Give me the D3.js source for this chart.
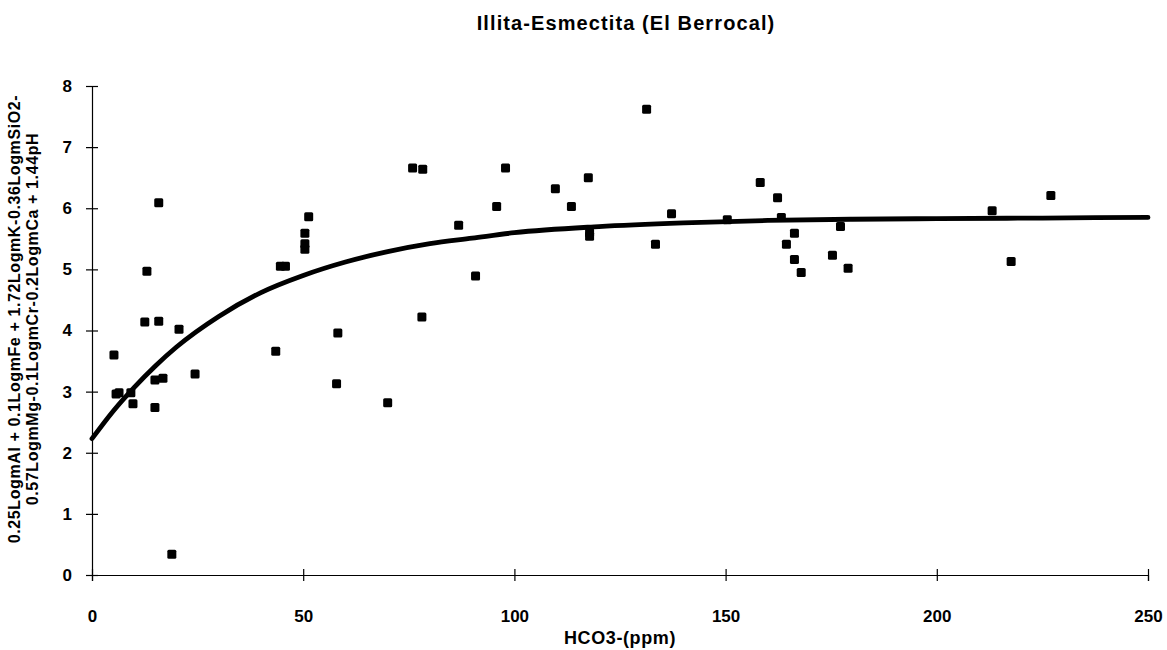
<!DOCTYPE html>
<html>
<head>
<meta charset="utf-8">
<script src="https://cdn.jsdelivr.net/npm/d3@7/dist/d3.min.js"></script>
<style>
  body { margin: 0; background: #fff; }
  svg { display: block; font-family: "Liberation Sans", Arial, Helvetica, sans-serif; }
  .axis path, .axis line { stroke: #000; stroke-width: 1.2; }
  .axis text { font-size: 17px; font-weight: bold; fill: #000; }
</style>
</head>
<body>
<div id="chart"></div>
<script>
// HCO3- (ppm) of each sample
var hco3 = [5.2, 5.7, 6.4, 9.2, 9.7, 13.0, 12.5, 15.8, 15.8, 14.9, 14.9, 16.8, 18.9, 20.6, 24.4,
  43.5, 44.6, 45.8, 50.4, 50.4, 50.4, 51.3, 58.2, 57.9, 70.0, 75.9, 78.3, 78.1, 86.8, 90.8,
  95.8, 97.9, 109.7, 113.5, 117.5, 117.8, 117.8, 131.3, 133.4, 137.2, 150.4, 158.2, 162.3,
  163.2, 164.4, 166.3, 166.3, 167.9, 175.3, 177.2, 179.0, 213.1, 217.6, 227.0];

// combined log-activity index of each sample
var index = [3.60, 2.96, 2.98, 2.98, 2.80, 4.97, 4.14, 6.09, 4.15, 2.74, 3.19, 3.22, 0.34, 4.02, 3.29,
  3.66, 5.05, 5.05, 5.59, 5.42, 5.33, 5.86, 3.96, 3.13, 2.82, 6.66, 6.64, 4.22, 5.72, 4.89,
  6.03, 6.66, 6.32, 6.03, 6.50, 5.54, 5.60, 7.62, 5.41, 5.91, 5.81, 6.42, 6.17,
  5.85, 5.41, 5.59, 5.16, 4.95, 5.23, 5.70, 5.02, 5.96, 5.13, 6.21];

// fitted trend curve
var fitX = [0, 5, 10, 15, 20, 30, 40, 50, 60, 70, 80, 90, 100, 120, 140, 160, 180, 200, 225, 250];
var fitY = [2.23, 2.68, 3.07, 3.42, 3.73, 4.23, 4.62, 4.90, 5.12, 5.29, 5.42, 5.51, 5.60, 5.70, 5.76, 5.80, 5.82, 5.83, 5.84, 5.85];

var xTicks = [0, 50, 100, 150, 200, 250];
var yTicks = [0, 1, 2, 3, 4, 5, 6, 7, 8];

var title = "Illita-Esmectita (El Berrocal)";
var xLabel = "HCO3-(ppm)";
var yLabel = ["0.25LogmAl + 0.1LogmFe + 1.72LogmK-0.36LogmSiO2-",
  "0.57LogmMg-0.1LogmCr-0.2LogmCa + 1.44pH"];

var width = 1167, height = 650,
  margin = {top: 86, right: 19, bottom: 75, left: 92};

var x = d3.scaleLinear().domain([0, 250]).range([margin.left, width - margin.right]);
var y = d3.scaleLinear().domain([0, 8]).range([height - margin.bottom, margin.top]);

var svg = d3.select("#chart").append("svg")
    .attr("width", width)
    .attr("height", height);

// title
svg.append("text")
    .attr("x", 626)
    .attr("y", 30)
    .attr("text-anchor", "middle")
    .style("font-size", "20px")
    .style("font-weight", "bold")
    .style("letter-spacing", "1.1px")
    .text(title);

// x axis
var gx = svg.append("g")
    .attr("class", "x axis")
    .attr("transform", "translate(0," + y(0) + ")")
    .call(d3.axisBottom(x).tickValues(xTicks).tickSizeOuter(0).tickSize(6).tickPadding(29));
gx.selectAll(".tick line").attr("y1", -6);

// y axis
var gy = svg.append("g")
    .attr("class", "y axis")
    .attr("transform", "translate(" + x(0) + ",0)")
    .call(d3.axisLeft(y).tickValues(yTicks).tickSizeOuter(0).tickSize(6).tickPadding(14));
gy.selectAll(".tick line").attr("x1", 6);

// axis titles
svg.append("text")
    .attr("x", 620)
    .attr("y", 644)
    .attr("text-anchor", "middle")
    .style("font-size", "18px")
    .style("font-weight", "bold")
    .style("letter-spacing", "0.6px")
    .text(xLabel);

svg.append("g")
    .attr("transform", "translate(0,319) rotate(-90)")
  .selectAll("text")
    .data(yLabel)
  .enter().append("text")
    .attr("x", 0)
    .attr("y", function(d, i) { return 20 + i * 18; })
    .attr("text-anchor", "middle")
    .style("font-size", "16px")
    .style("font-weight", "bold")
    .style("letter-spacing", "0.6px")
    .text(function(d) { return d; });

// trend curve
var fit = fitX.map(function(d, i) { return [d, fitY[i]]; });
svg.append("path")
    .datum(fit)
    .attr("fill", "none")
    .attr("stroke", "#000")
    .attr("stroke-width", 4.8)
    .attr("stroke-linecap", "round")
    .attr("d", d3.line()
      .x(function(d) { return x(d[0]); })
      .y(function(d) { return y(d[1]); })
      .curve(d3.curveMonotoneX));

// sample points
var pts = hco3.map(function(d, i) { return [d, index[i]]; });
svg.selectAll(".point")
    .data(pts)
  .enter().append("rect")
    .attr("class", "point")
    .attr("x", function(d) { return x(d[0]) - 4.5; })
    .attr("y", function(d) { return y(d[1]) - 4.5; })
    .attr("width", 9)
    .attr("height", 9)
    .attr("rx", 1.5)
    .attr("fill", "#000");
</script>
</body>
</html>
